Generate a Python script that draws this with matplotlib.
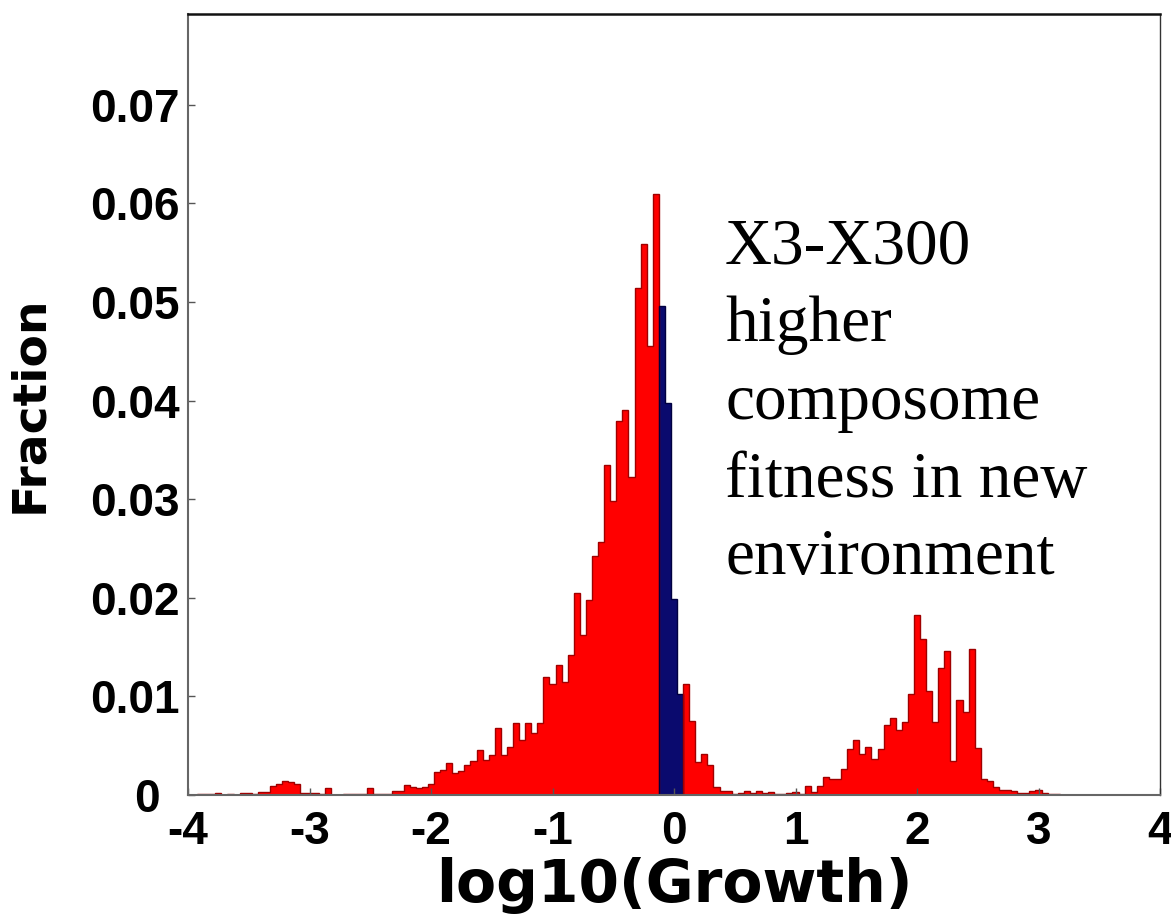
"""Histogram of log10(Growth) with the near-neutral bins shown in blue."""
import matplotlib
matplotlib.use("Agg")
import matplotlib.pyplot as plt
import matplotlib.transforms as mtransforms
import numpy as np

# ── data ─────────────────────────────────────────────────────────────
bin_width = 0.05
bin_centers = np.round(np.arange(-4.0, 4.0 + 1e-9, bin_width), 2)

frac_m4_m3 = [0, 0, 0.0001, 0.0001, 0.0001, 0.0002, 0, 0.0001, 0, 0.0002,
              0.0002, 0.0001, 0.0003, 0.0003, 0.0009, 0.0011, 0.0014, 0.0013, 0.0011, 0.0002]
frac_m3_m2 = [0.0002, 0.0002, 0.0001, 0.0007, 0, 0, 0.0001, 0.0001, 0.0001, 0.0001,
              0.0007, 0.0001, 0.0001, 0.0001, 0.0004, 0.0004, 0.0010, 0.0008, 0.0007, 0.0008]
frac_m2_m1 = [0.0011, 0.0023, 0.0025, 0.0032, 0.0022, 0.0024, 0.0030, 0.0034, 0.0046, 0.0035,
              0.0041, 0.0068, 0.0041, 0.0049, 0.0073, 0.0056, 0.0073, 0.0063, 0.0073, 0.0120]
frac_m1_0 = [0.0113, 0.0132, 0.0115, 0.0142, 0.0205, 0.0162, 0.0198, 0.0242, 0.0257, 0.0335,
             0.0298, 0.0379, 0.0390, 0.0322, 0.0514, 0.0559, 0.0455, 0.0609, 0.0496, 0.0398]
frac_0_1 = [0.0199, 0.0102, 0.0113, 0.0075, 0.0033, 0.0042, 0.0030, 0.0008, 0.0004, 0.0004,
            0.0001, 0.0002, 0.0004, 0.0002, 0.0004, 0.0002, 0.0003, 0.0001, 0.0001, 0.0002]
frac_1_2 = [0.0003, 0.0001, 0.0009, 0.0003, 0.0009, 0.0018, 0.0016, 0.0016, 0.0026, 0.0047,
            0.0056, 0.0042, 0.0049, 0.0037, 0.0047, 0.0071, 0.0078, 0.0066, 0.0074, 0.0102]
frac_2_3 = [0.0183, 0.0158, 0.0105, 0.0074, 0.0129, 0.0146, 0.0034, 0.0096, 0.0084, 0.0148,
            0.0048, 0.0016, 0.0014, 0.0008, 0.0005, 0.0005, 0.0004, 0.0002, 0.0002, 0.0004]
frac_3_4 = [0.0005, 0.0002, 0.0001, 0.0001] + [0] * 17

fraction = np.array(frac_m4_m3 + frac_m3_m2 + frac_m2_m1 + frac_m1_0
                    + frac_0_1 + frac_1_2 + frac_2_3 + frac_3_4)

# bins drawn in blue (roughly neutral growth)
neutral_lo, neutral_hi = -0.1, 0.05

x_ticks = [-4, -3, -2, -1, 0, 1, 2, 3, 4]
y_ticks = [0, 0.01, 0.02, 0.03, 0.04, 0.05, 0.06, 0.07]
y_tick_labels = ["0", "0.01", "0.02", "0.03", "0.04", "0.05", "0.06", "0.07"]

note = "X3-X300\nhigher\ncomposome\nfitness in new\nenvironment"

# ── plot ─────────────────────────────────────────────────────────────
RED, RED_EDGE = "#ff0000", "#a00000"
BLUE, BLUE_EDGE = "#0a0a6e", "#000040"

fig = plt.figure(figsize=(11.71, 9.15), dpi=100)
ax = fig.add_axes([188 / 1171, 1 - 795 / 915, 972 / 1171, 781 / 915])

is_blue = (bin_centers >= neutral_lo - 1e-9) & (bin_centers <= neutral_hi + 1e-9)
edges = np.append(bin_centers - bin_width / 2, bin_centers[-1] + bin_width / 2)

ax.bar(bin_centers[~is_blue], fraction[~is_blue], width=bin_width,
       color=RED, linewidth=0)
ax.bar(bin_centers[is_blue], fraction[is_blue], width=bin_width,
       color=BLUE, linewidth=0)

# dark outline along the bar tops, like the original
first_blue = np.argmax(is_blue)
last_blue = len(is_blue) - np.argmax(is_blue[::-1])
ax.stairs(fraction[:first_blue], edges[:first_blue + 1], color=RED_EDGE, lw=1.0)
ax.stairs(fraction[first_blue:last_blue], edges[first_blue:last_blue + 1],
          color=BLUE_EDGE, lw=1.0)
ax.stairs(fraction[last_blue:], edges[last_blue:], color=RED_EDGE, lw=1.0)

ax.set_xlim(-4, 4)
ax.set_ylim(0, 0.0792)

tick_font = dict(family="Liberation Sans", weight="bold", size=33)
ax.set_xticks(x_ticks)
ax.set_xticklabels([str(t) for t in x_ticks], **tick_font)
ax.set_yticks(y_ticks)
ax.set_yticklabels(y_tick_labels, **tick_font)
ax.tick_params(axis="both", direction="in", length=5, width=1, color="#555555")
ax.tick_params(axis="x", pad=11)
ax.tick_params(axis="y", pad=6)

# the bottom "0" sits a little to the left, clear of the "-4"
zero_label = ax.get_yticklabels()[0]
zero_label.set_transform(zero_label.get_transform()
                         + mtransforms.ScaledTranslation(-0.2, 0, fig.dpi_scale_trans))

label_font = dict(family="DejaVu Sans", weight="bold")
ax.set_xlabel("log10(Growth)", fontsize=42, **label_font)
ax.xaxis.set_label_coords(0.5, -0.08)
ax.set_ylabel("Fraction", fontsize=34, **label_font)
ax.yaxis.set_label_coords(-0.14, 0.5)

for side in ("left", "bottom"):
    ax.spines[side].set_color("#666666")
    ax.spines[side].set_linewidth(1.5)
ax.spines["top"].set_color("#111111")
ax.spines["top"].set_linewidth(1.8)
ax.spines["right"].set_color("#333333")
ax.spines["right"].set_linewidth(1.0)

ax.text(0.42, 0.0585, note, family="Liberation Serif", fontsize=47,
        ha="left", va="top", linespacing=1.4, color="black")

fig.savefig("out.png", dpi=100)
plt.close(fig)
